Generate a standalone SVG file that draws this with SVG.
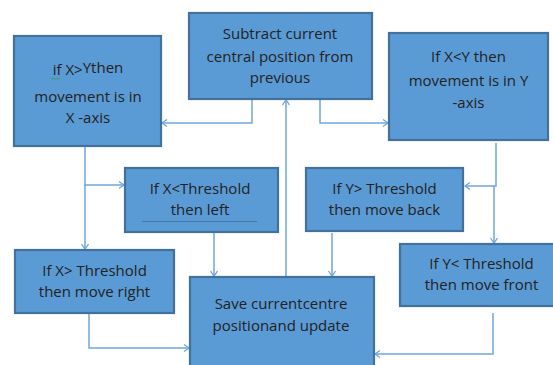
<svg xmlns="http://www.w3.org/2000/svg" width="553" height="365" viewBox="0 0 553 365">
<defs>
<marker id="arr" markerWidth="10" markerHeight="10" refX="6" refY="4" orient="auto" markerUnits="userSpaceOnUse">
<path d="M1,0.5 L6,4 L1,7.5" fill="none" stroke="#6FA6DA" stroke-width="1.3"/>
</marker>
</defs>
<style>
.box{fill:#5B9BD5;stroke:#41719C;stroke-width:2.2}
.t{font-family:"Open Sans","Liberation Sans",sans-serif;font-size:15px;fill:#222;text-anchor:middle}
.c{fill:none;stroke:#6FA6DA;stroke-width:1.5;marker-end:url(#arr)}
.cn{fill:none;stroke:#6FA6DA;stroke-width:1.5}
</style>
<rect width="553" height="365" fill="#fff"/>
<g id="connectors">
<path class="c" d="M252,100 V123 H162"/>
<path class="c" d="M320,100 V123 H388"/>
<path class="c" d="M286,277 V100"/>
<path class="c" d="M85,147 V185 H124"/>
<path class="c" d="M85,185 V249"/>
<path class="c" d="M214,233 V276"/>
<path class="c" d="M89,314 V348 H189"/>
<path class="c" d="M496,143 V186 H465"/>
<path class="c" d="M494,186 V243"/>
<path class="c" d="M332,233 V276"/>
<path class="c" d="M493,313 V354 H375"/>
</g>
<g id="subtract">
<rect class="box" x="189" y="13" width="183" height="86"/>
<text class="t" x="280" y="39">Subtract current</text>
<text class="t" x="280" y="62">central position from</text>
<text class="t" x="280" y="83">previous</text>
</g>
<g id="xgty">
<rect class="box" x="14" y="36" width="147" height="110"/>
<text class="t" x="88" y="75">if X&gt;<tspan dy="-2">Ythen</tspan></text>
<path d="M51,78 l1.5,1.5 l1.5,-1.5 l1.5,1.5 l1.5,-1.5 l1.5,1.5 l1.5,-1.5" fill="none" stroke="#3a9a3a" stroke-width="0.8"/>
<text class="t" x="88" y="102">movement is in</text>
<text class="t" x="88" y="123">X -axis</text>
</g>
<g id="xlty">
<rect class="box" x="389" y="33" width="159" height="107"/>
<text class="t" x="468.5" y="62">If X&lt;Y then</text>
<text class="t" x="468.5" y="86">movement is in Y</text>
<text class="t" x="468.5" y="108">-axis</text>
</g>
<g id="xltth">
<rect class="box" x="125" y="168" width="153" height="64"/>
<text class="t" x="200" y="194">If X&lt;Threshold</text>
<text class="t" x="200" y="215">then left</text>
<line x1="142" y1="221.5" x2="257" y2="221.5" stroke="#3d6f9c" stroke-width="0.8"/>
</g>
<g id="ygtth">
<rect class="box" x="306" y="168" width="157" height="63"/>
<text class="t" x="384.5" y="194">If Y&gt; Threshold</text>
<text class="t" x="384.5" y="215">then move back</text>
</g>
<g id="xgtth">
<rect class="box" x="15" y="250" width="159" height="63"/>
<text class="t" x="94.5" y="276">If X&gt; Threshold</text>
<text class="t" x="94.5" y="297">then move right</text>
</g>
<g id="yltth">
<rect class="box" x="400" y="244" width="160" height="62"/>
<text class="t" x="481.5" y="269">If Y&lt; Threshold</text>
<text class="t" x="481.5" y="290">then move front</text>
</g>
<g id="save">
<rect class="box" x="190" y="277" width="184" height="95"/>
<text class="t" x="281" y="309">Save currentcentre</text>
<text class="t" x="281" y="331">positionand update</text>
</g>
</svg>
